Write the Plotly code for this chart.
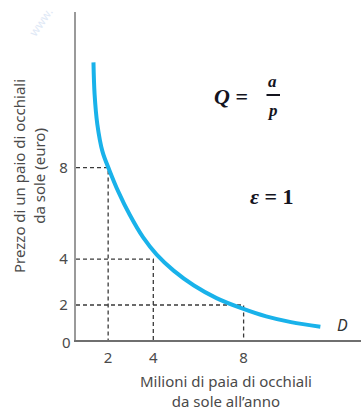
import plotly.graph_objects as go

# demand curve (million pairs, euro)
curve_q = [1.35, 1.40, 1.52, 1.75, 2.05, 2.45, 2.95, 3.55, 4.15, 4.9, 5.8, 6.8, 7.9, 9.0, 10.1, 11.4]
curve_p = [12.6, 11.2, 9.9, 8.7, 7.9, 6.95, 5.95, 4.95, 4.2, 3.5, 2.85, 2.3, 1.86, 1.5, 1.25, 1.05]

# marked points on the curve
mark_q = [2, 4, 8]
mark_p = [8, 4, 2]

x_ticks = [2, 4, 8]
y_ticks = [2, 4, 8]

x_range = [0.576, 13.2]
y_range = [0.47, 14.8]

W, H = 361, 411
L, R, T, B = 76, 0, 12, 71


def px(x):
    return (x - L) / (W - L - R)


def py(y):
    return (H - B - y) / (H - T - B)


fig = go.Figure()

# dashed guides to the axes
for q, p in zip(mark_q, mark_p):
    fig.add_trace(go.Scatter(
        x=[x_range[0], q, q], y=[p, p, y_range[0]],
        mode="lines", line=dict(color="#3a3a3a", width=1.3, dash="4px,3px"),
        hoverinfo="skip", showlegend=False))

fig.add_trace(go.Scatter(
    x=curve_q, y=curve_p, mode="lines",
    line=dict(color="#19b2ea", width=4, shape="spline", smoothing=1.0),
    showlegend=False))

fig.update_xaxes(range=x_range, tickvals=x_ticks, showgrid=False, zeroline=False,
                 showline=True, linecolor="#6f6f6f", linewidth=1.5, ticks="",
                 ticklabelstandoff=3,
                 tickfont=dict(family="Noto Sans", size=15, color="#4a4a4a"))
fig.update_yaxes(range=y_range, tickvals=y_ticks, showgrid=False, zeroline=False,
                 showline=True, linecolor="#9a9a9a", linewidth=2.2, ticks="",
                 ticklabelstandoff=3,
                 tickfont=dict(family="Noto Sans", size=15, color="#4a4a4a"))

txt = dict(family="Noto Sans", size=15, color="#4a4a4a")
eq = dict(family="Liberation Serif", size=22, color="#14141e")
small_eq = dict(family="Liberation Serif", size=17, color="#14141e")

annotations = [
    dict(x=px(66), y=py(342), text="0", font=txt),
    dict(x=px(29), y=py(176), text="Prezzo di un paio di occhiali<br>da sole (euro)",
         textangle=-90, font=txt),
    dict(x=px(226), y=py(391), text="Milioni di paia di occhiali<br>da sole all\u2019anno",
         font=txt),
    dict(x=px(342), y=py(325), text="<i>D</i>", font=dict(family="Noto Sans", size=16, color="#333")),
    dict(x=px(231), y=py(96), text="<b><i>Q</i> =</b>", font=eq),
    dict(x=px(272), y=py(82), text="<b><i>a</i></b>", font=small_eq),
    dict(x=px(272), y=py(110), text="<b><i>p</i></b>", font=small_eq),
    dict(x=px(272), y=py(197), text="<b><i>\u03b5</i> = 1</b>", font=eq),
    dict(x=px(40), y=py(22), text="www.", textangle=-55,
         font=dict(family="Noto Sans", size=12, color="#dfe9f6")),
]
for a in annotations:
    a.update(xref="paper", yref="paper", showarrow=False,
             xanchor="center", yanchor="middle")

# fraction bar of a/p, drawn as a headless arrow
annotations.append(dict(xref="paper", yref="paper", x=px(280), y=py(95),
                        text="", showarrow=True, arrowhead=0, arrowwidth=2,
                        arrowcolor="#14141e", ax=-15, ay=0, standoff=0))

fig.update_layout(
    width=W, height=H,
    margin=dict(l=L, r=R, t=T, b=B),
    paper_bgcolor="white", plot_bgcolor="white",
    annotations=annotations,
)

# drop the default body margin so the figure sits at the window's corner
fig.write_html("out.html", config={"displayModeBar": False},
               post_script="document.body.style.margin='0';")
